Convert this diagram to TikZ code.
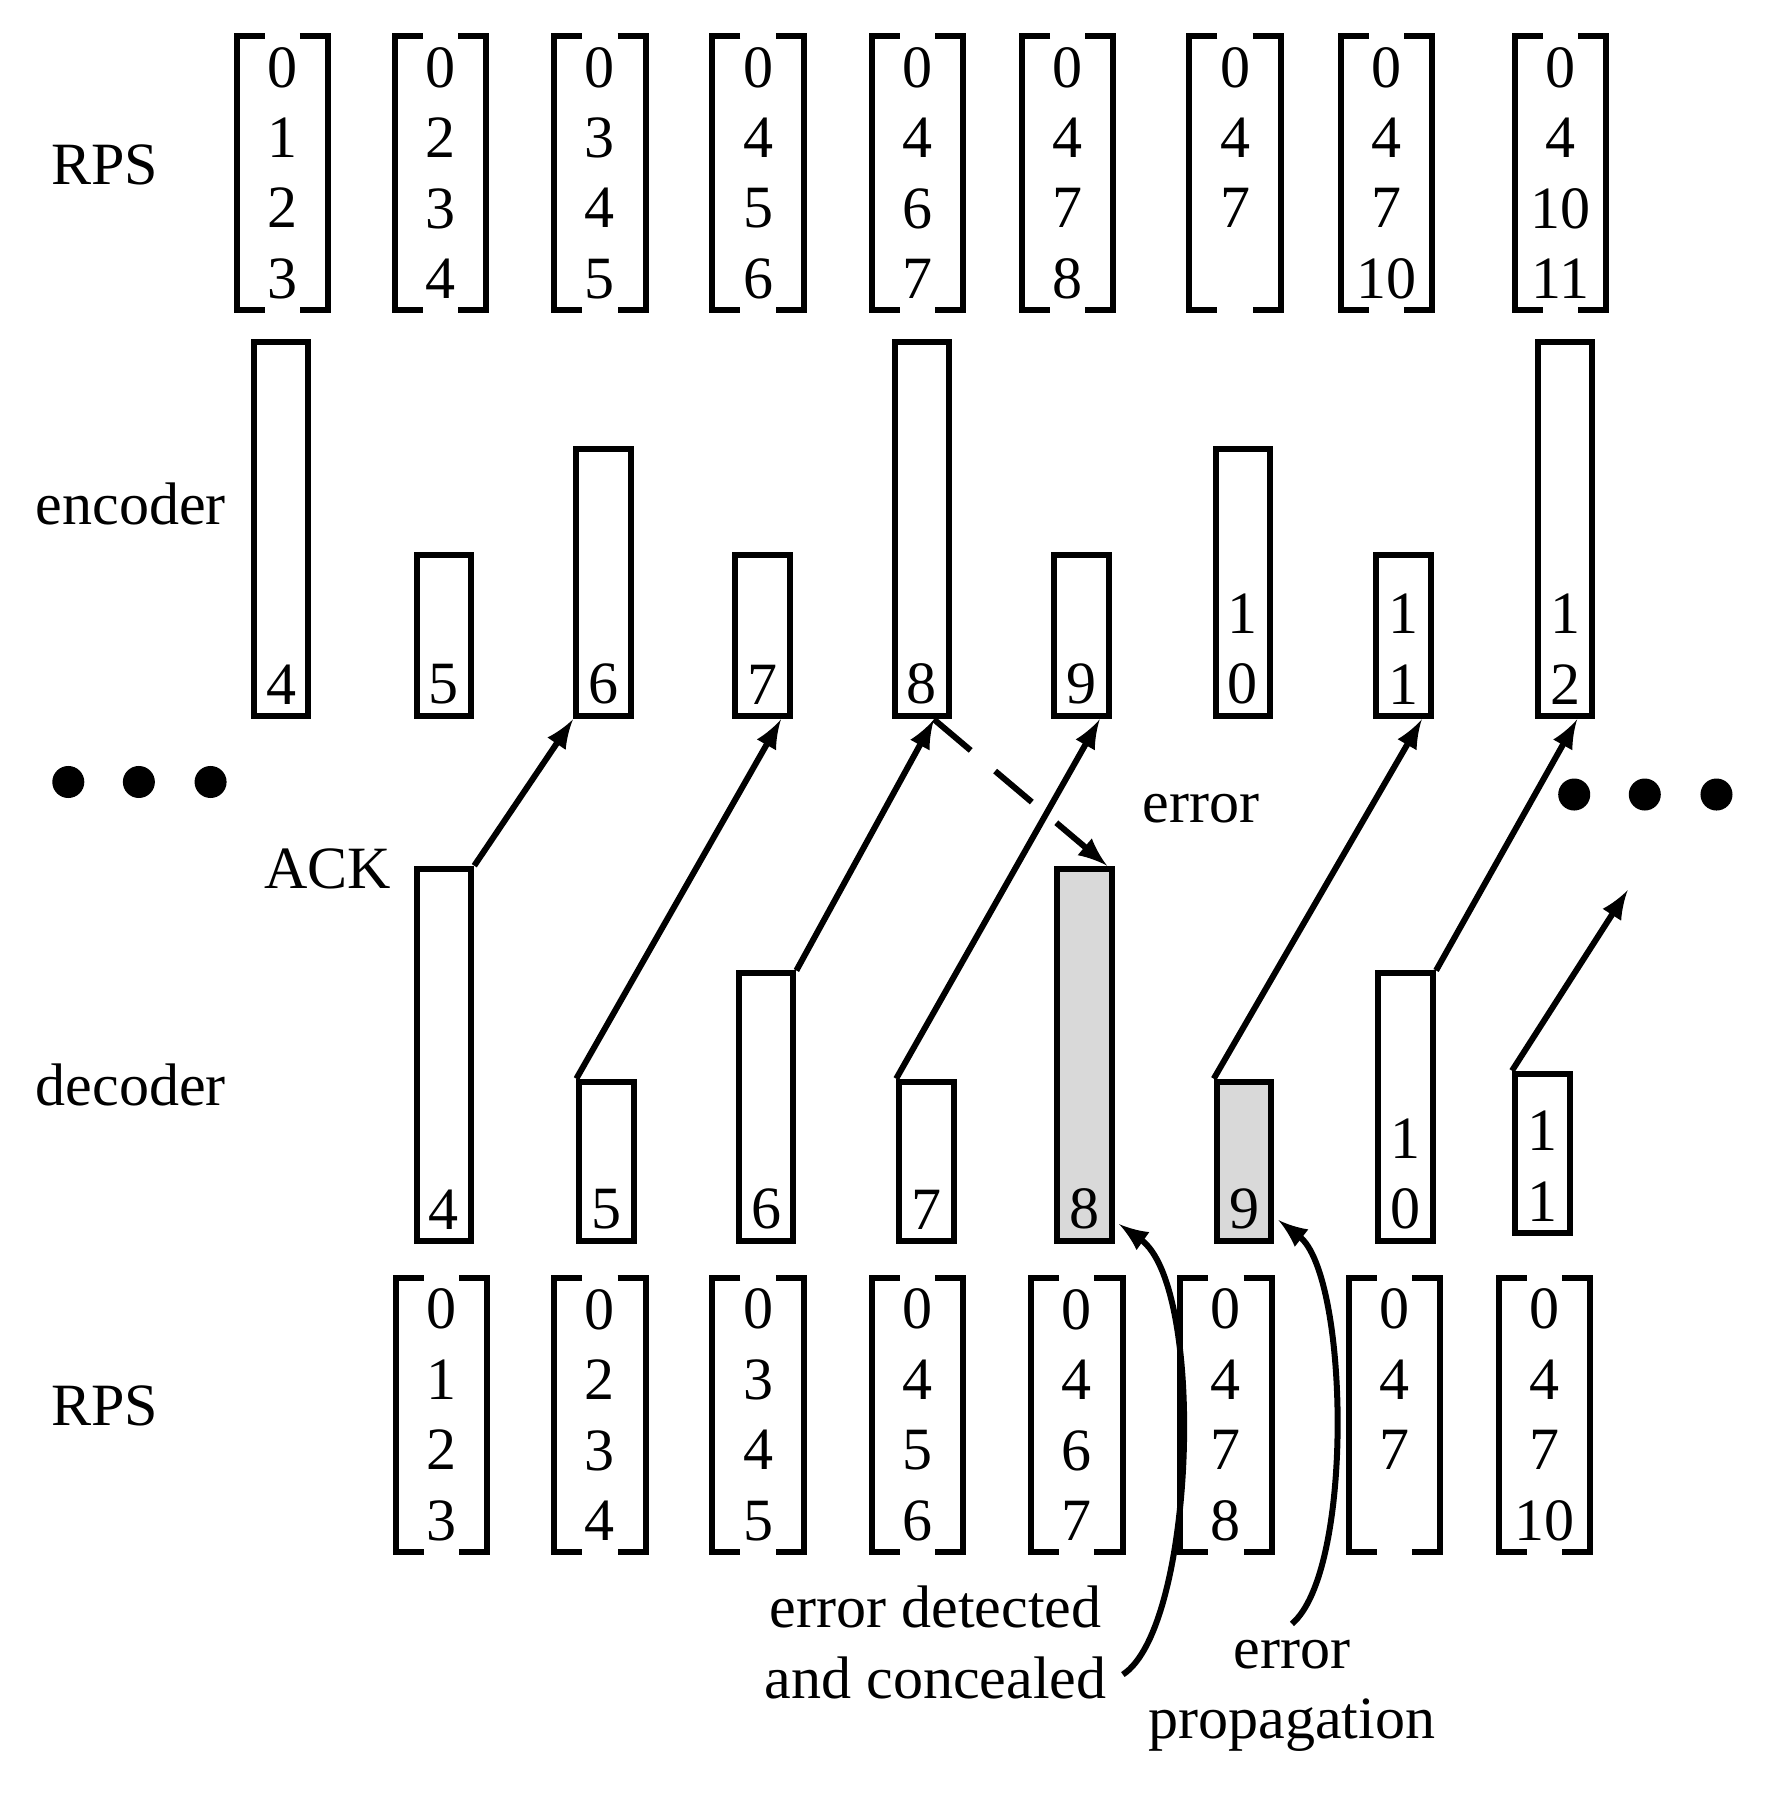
\documentclass[tikz,border=0pt]{standalone}
\usepackage{fontspec}
\setmainfont{Liberation Serif}
\usetikzlibrary{arrows}
\begin{document}
\begin{tikzpicture}[x=0.01cm, y=-0.01cm, line width=1.5pt,
  rps/.style = {align=center, minimum height=2.35cm, minimum width=0.75cm, inner sep=0pt},
  frm/.style = {draw, minimum width=0.48cm, anchor=south, inner sep=0pt},
  num/.style = {anchor=south, inner sep=3pt, align=center},
  ack/.style = {-latex},
  font=\fontsize{15}{17.6}\selectfont]
\useasboundingbox (0,0) rectangle (1560,1584);
% reference picture sets
\node[rps] (t1) at (248,152) {0\\1\\2\\3};
\node[rps] (t2) at (387,152) {0\\2\\3\\4};
\node[rps] (t3) at (527,152) {0\\3\\4\\5};
\node[rps] (t4) at (666,152) {0\\4\\5\\6};
\node[rps] (t5) at (806,152) {0\\4\\6\\7};
\node[rps] (t6) at (938,152) {0\\4\\7\\8};
\node[rps] (t7) at (1085,152) {0\\4\\7\\\phantom{0}};
\node[rps] (t8) at (1218,152) {0\\4\\7\\10};
\node[rps] (t9) at (1371,152) {0\\4\\10\\11};
\node[rps] (b1) at (388,1243) {0\\1\\2\\3};
\node[rps] (b2) at (527,1243) {0\\2\\3\\4};
\node[rps] (b3) at (666,1243) {0\\3\\4\\5};
\node[rps] (b4) at (806,1243) {0\\4\\5\\6};
\node[rps] (b5) at (946,1243) {0\\4\\6\\7};
\node[rps] (b6) at (1077,1243) {0\\4\\7\\8};
\node[rps] (b7) at (1225,1243) {0\\4\\7\\\phantom{0}};
\node[rps] (b8) at (1357,1243) {0\\4\\7\\10};
\foreach \m in {t1,t2,t3,t4,t5,t6,t7,t8,t9,b1,b2,b3,b4,b5,b6,b7,b8}{
  \draw ([xshift=7pt]\m.north west) -| (\m.south west) -- ++(7pt,0);
  \draw ([xshift=-7pt]\m.north east) -| (\m.south east) -- ++(-7pt,0);
}
% encoder frames
\node[frm, minimum height=3.29cm] (e4) at (247,632) {};
\node[frm, minimum height=1.42cm] (e5) at (390,632) {};
\node[frm, minimum height=2.35cm] (e6) at (530,632) {};
\node[frm, minimum height=1.42cm] (e7) at (670,632) {};
\node[frm, minimum height=3.29cm] (e8) at (810,632) {};
\node[frm, minimum height=1.42cm] (e9) at (950,632) {};
\node[frm, minimum height=2.35cm] (e10) at (1092,632) {};
\node[frm, minimum height=1.42cm] (e11) at (1233,632) {};
\node[frm, minimum height=3.29cm] (e12) at (1375,632) {};
\foreach \f/\t in {e4/4,e5/5,e6/6,e7/7,e8/8,e9/9,e10/1\\0,e11/1\\1,e12/1\\2}
  \node[num] at (\f.south) {\t};
% decoder frames
\node[frm, minimum height=3.27cm] (d4) at (390,1093) {};
\node[frm, minimum height=1.40cm] (d5) at (533,1093) {};
\node[frm, minimum height=2.35cm] (d6) at (673,1093) {};
\node[frm, minimum height=1.40cm] (d7) at (814,1093) {};
\node[frm, minimum height=3.27cm, fill=gray!30] (d8) at (953,1093) {};
\node[frm, minimum height=1.40cm, fill=gray!30] (d9) at (1093,1093) {};
\node[frm, minimum height=2.35cm] (d10) at (1235,1093) {};
\node[frm, minimum height=1.40cm] (d11) at (1355,1086) {};
\foreach \f/\t in {d4/4,d5/5,d6/6,d7/7,d8/8,d9/9,d10/1\\0,d11/1\\1}
  \node[num] at (\f.south) {\t};
% labels
\node (rpsT) at (92,145) {RPS};
\node (enc) at (115,443) {encoder};
\node (dec) at (115,953) {decoder};
\node (rpsB) at (92,1235) {RPS};
\node (ackL) at (288,763) {ACK};
\node (errL) at (1055,710) {error};
\node[align=center] (conc) at (822,1443) {error detected\\and concealed};
\node[align=center] (prop) at (1135,1490) {error\\propagation};
\foreach \x in {60,122,185} \fill (\x,687) circle (4pt);
\foreach \x in {1383,1445,1508} \fill (\x,698) circle (4pt);
\coordinate (free) at (1430,782);
% feedback
\draw[ack] (d4.north east) -- (e6.south west);
\draw[ack] (d5.north west) -- ([xshift=-3pt]e7.south east);
\draw[ack] (d6.north east) -- ([xshift=3pt]e8.south);
\draw[ack] (d7.north west) -- ([xshift=-3pt]e9.south east);
\draw[ack] (d9.north west) -- ([xshift=-3pt]e11.south east);
\draw[ack] (d10.north east) -- ([xshift=3pt]e12.south);
\draw[ack] (d11.north west) -- (free);
\draw[ack, dashed, dash pattern=on 12pt off 8pt] ([xshift=3pt]e8.south) -- ([xshift=-2pt]d8.north east);
\draw[ack] ([yshift=-8pt]conc.east) .. controls (1050,1430) and (1060,1130) .. ([shift={(1pt,5pt)}]d8.south east);
\draw[ack] (prop.north) .. controls (1190,1380) and (1185,1120) .. ([shift={(1pt,6pt)}]d9.south east);
\end{tikzpicture}
\end{document}
